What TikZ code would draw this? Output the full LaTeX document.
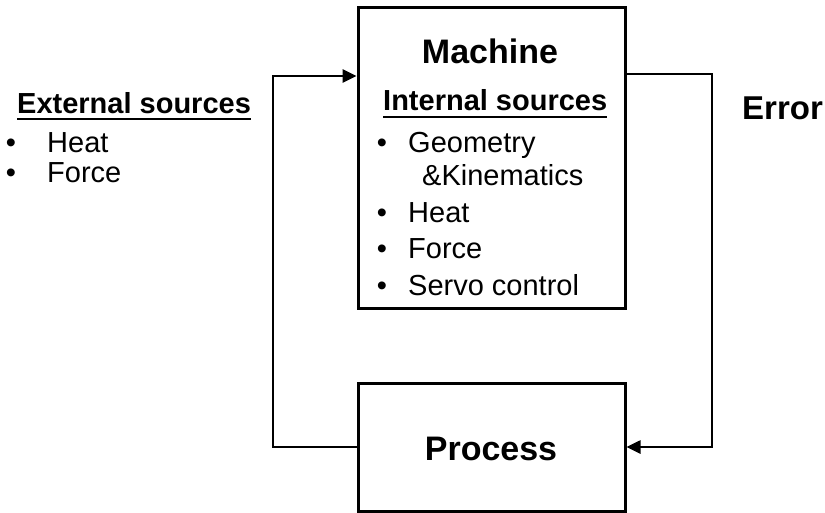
\documentclass[tikz,border=0pt]{standalone}
\usepackage{fontspec}
\setmainfont{Liberation Sans}
\usetikzlibrary{arrows.meta}
\begin{document}
\begin{tikzpicture}[x=1pt,y=-1pt,
  boxnode/.style={draw,line width=3pt,inner sep=0pt},
  conn/.style={line width=2.6pt},
  big/.style={font=\fontsize{34}{34}\selectfont\bfseries,inner sep=0pt},
  hdr/.style={font=\fontsize{29}{29}\selectfont\bfseries,inner sep=0pt,anchor=base west},
  item/.style={font=\fontsize{29}{29}\selectfont,inner sep=0pt,anchor=base west},
  bul/.style={font=\fontsize{29}{29}\selectfont,inner sep=0pt,anchor=base}]
\useasboundingbox (0,0) rectangle (825,512);
\node[boxnode,minimum width=267pt,minimum height=301pt] (machine) at (491.5,157.5) {};
\node[boxnode,minimum width=267pt,minimum height=128pt] (process) at (491.5,447) {};
\node[big,anchor=base] (mtitle) at (490,63) {Machine};
\node[big,anchor=base] (ptitle) at (491,460) {Process};
\node[big,anchor=base west,font=\fontsize{33}{33}\selectfont\bfseries] (err) at (742,119) {Error};
% internal sources
\node[hdr] (int) at (383,110) {Internal sources};
\draw[line width=2pt] ([yshift=-7pt]int.base west) -- ([yshift=-7pt]int.base east);
\node[bul] (b1) at (382,152) {•};
\node[item] (i1) at (408,152) {Geometry};
\node[item] (i1b) at (422,185) {\&Kinematics};
\node[bul] (b2) at (382,222) {•};
\node[item] (i2) at (408,222) {Heat};
\node[bul] (b3) at (382,258) {•};
\node[item] (i3) at (408,258) {Force};
\node[bul] (b4) at (382,295) {•};
\node[item] (i4) at (408,295) {Servo control};
% external sources
\node[hdr] (ext) at (17,113) {External sources};
\draw[line width=2pt] ([yshift=-6pt]ext.base west) -- ([yshift=-6pt]ext.base east);
\node[bul] (e1b) at (11,152) {•};
\node[item] (e1) at (47,152) {Heat};
\node[bul] (e2b) at (11,182) {•};
\node[item] (e2) at (47,182) {Force};
% connectors
\coordinate (lc) at (273,76);
\coordinate (rc) at (712,74);
\draw[conn,-{Triangle[length=14pt,width=13pt]}] (process.west) -| (lc) -- (machine.west |- lc);
\draw[conn,-{Triangle[length=14pt,width=13pt]}] (machine.east |- rc) -- (rc) |- (process.east);
\end{tikzpicture}
\end{document}
